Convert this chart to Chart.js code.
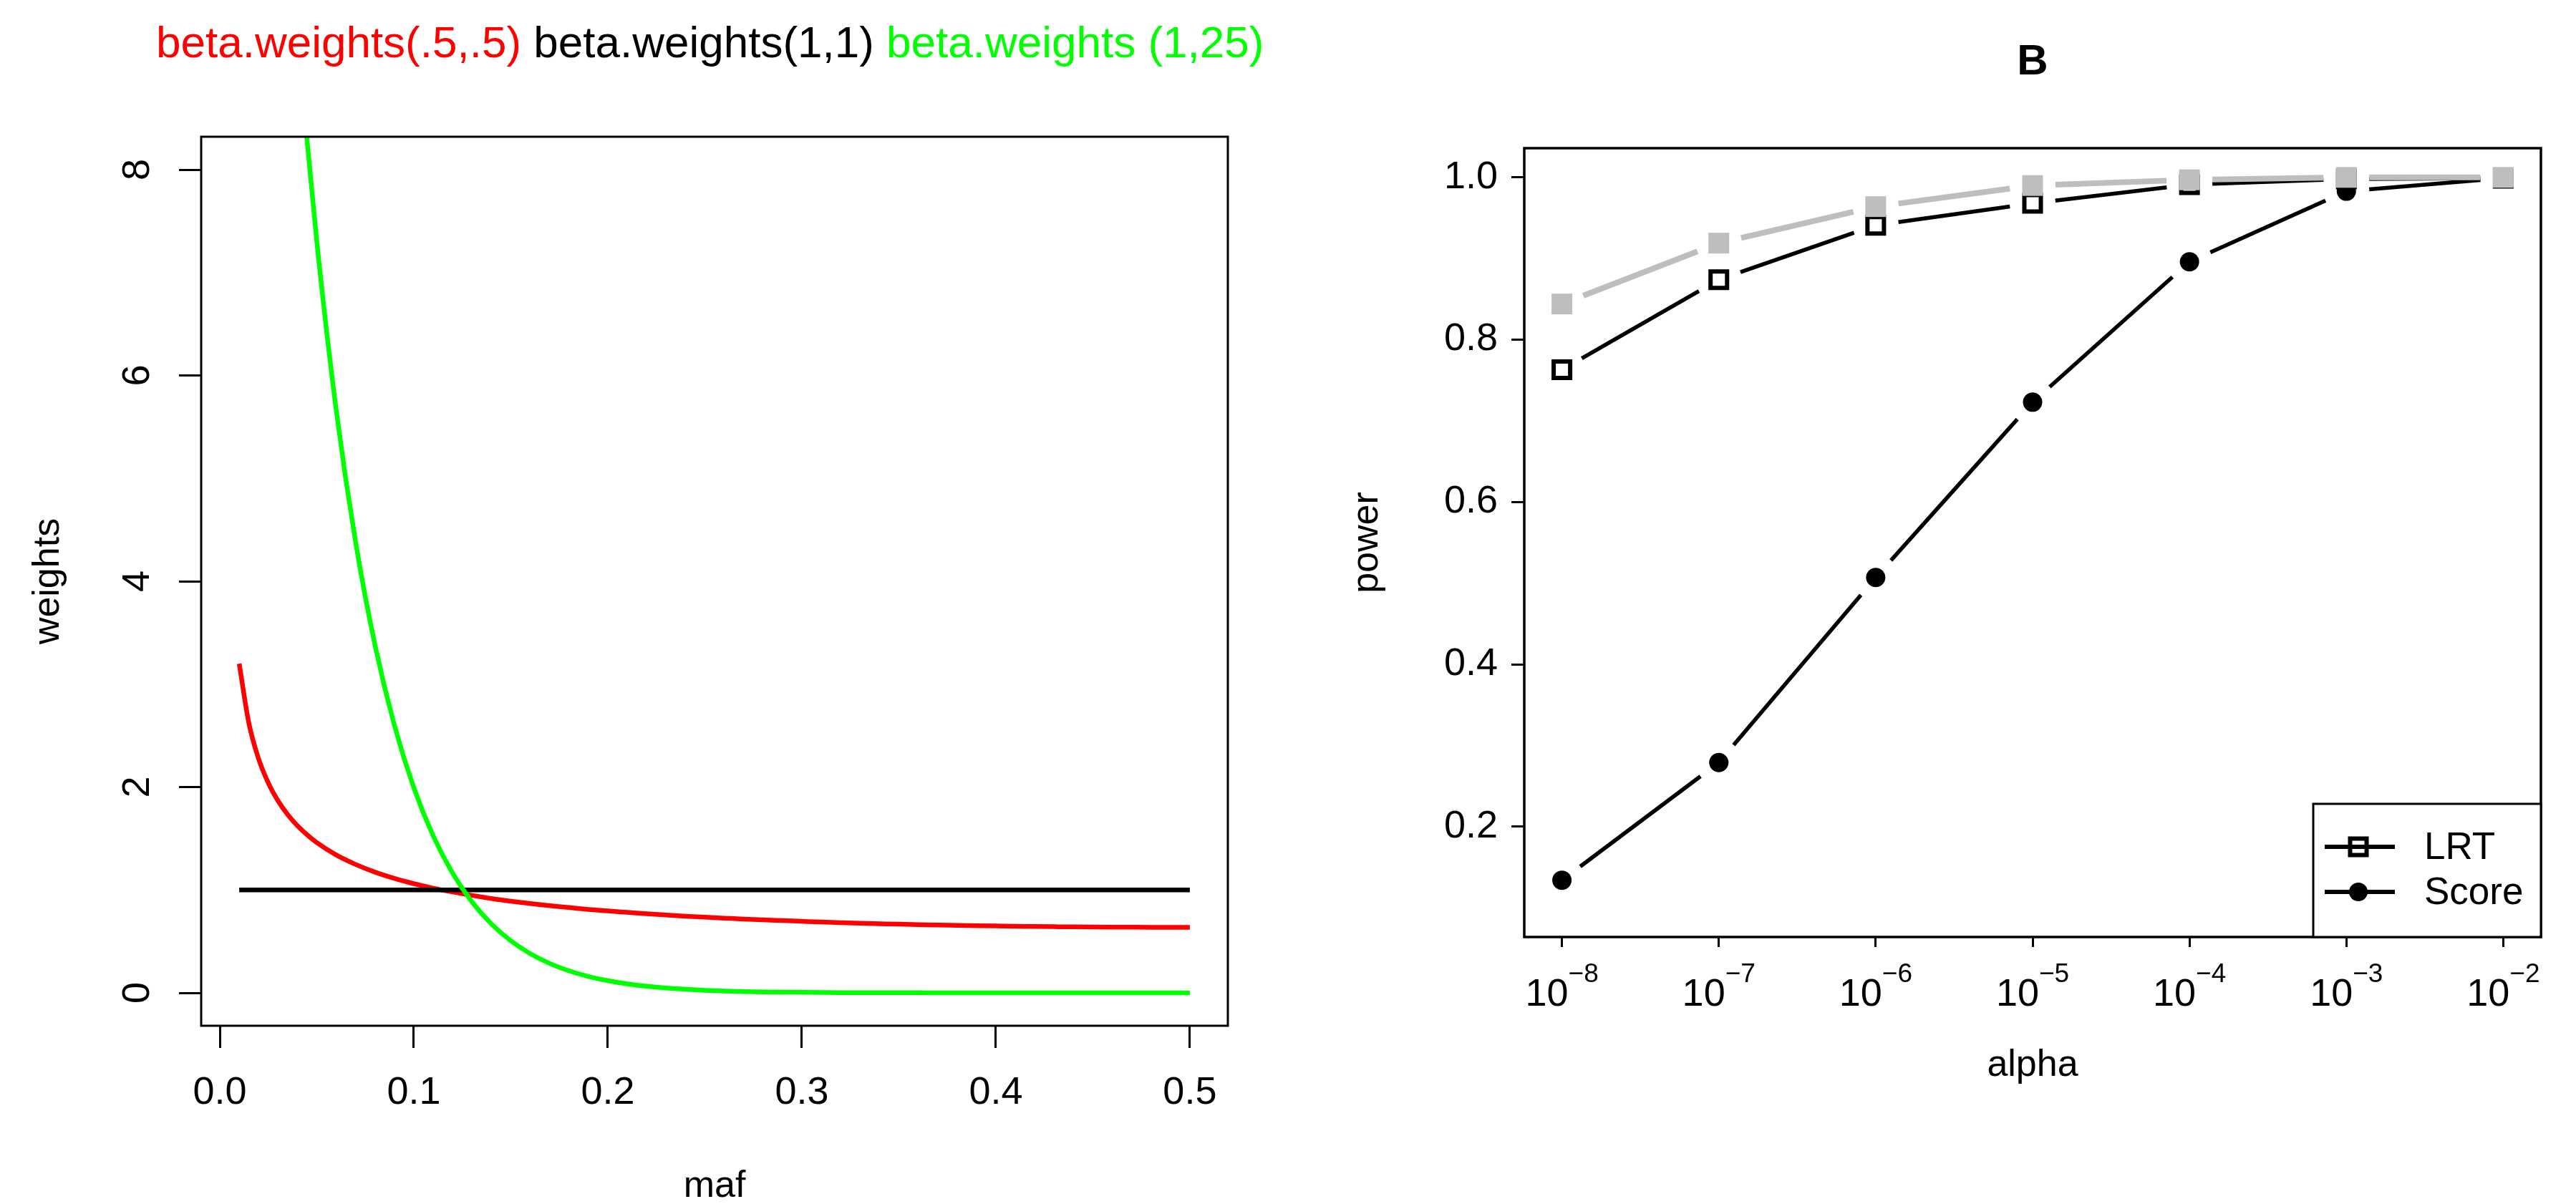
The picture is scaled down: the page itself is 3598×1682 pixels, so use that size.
<!DOCTYPE html>
<html>
<head>
<meta charset="utf-8">
<script src="https://cdn.jsdelivr.net/npm/chart.js@4.4.1/dist/chart.umd.min.js"></script>
<style>
  html, body { margin: 0; padding: 0; background: #fff; overflow: hidden; }
  #wrap { position: relative; width: 3598px; height: 1682px; background: #fff; }
  canvas { position: absolute; top: 0; }
  #left { left: 0; }
  #right { left: 1800px; }
</style>
</head>
<body>
<div id="wrap">
  <canvas id="left" width="1800" height="1682"></canvas>
  <canvas id="right" width="1798" height="1682"></canvas>
</div>
<script>
// left panel: beta weights vs minor allele frequency
const maf = [0.01, 0.015, 0.02, 0.025, 0.03, 0.035, 0.04, 0.045, 0.05,
             0.06, 0.07, 0.08, 0.09, 0.10,
             0.11, 0.12, 0.13, 0.14, 0.15, 0.16, 0.17, 0.18, 0.19, 0.20,
             0.21, 0.22, 0.23, 0.24, 0.25, 0.26, 0.27, 0.28, 0.29, 0.30,
             0.31, 0.32, 0.33, 0.34, 0.35, 0.36, 0.37, 0.38, 0.39, 0.40,
             0.41, 0.42, 0.43, 0.44, 0.45, 0.46, 0.47, 0.48, 0.49, 0.50];
const wHalf = [3.199, 2.619, 2.274, 2.039, 1.866, 1.732, 1.624, 1.536, 1.460,
               1.340, 1.248, 1.173, 1.112, 1.061,
               1.017, 0.980, 0.947, 0.917, 0.891, 0.868, 0.847, 0.829, 0.811, 0.796,
               0.782, 0.768, 0.756, 0.745, 0.735, 0.726, 0.717, 0.709, 0.702, 0.695,
               0.688, 0.682, 0.677, 0.672, 0.667, 0.663, 0.659, 0.656, 0.653, 0.650,
               0.647, 0.645, 0.643, 0.641, 0.640, 0.639, 0.638, 0.637, 0.637, 0.637];
const wFlat = [1, 1, 1, 1, 1, 1, 1, 1, 1,
               1, 1, 1, 1, 1,
               1, 1, 1, 1, 1, 1, 1, 1, 1, 1,
               1, 1, 1, 1, 1, 1, 1, 1, 1, 1,
               1, 1, 1, 1, 1, 1, 1, 1, 1, 1,
               1, 1, 1, 1, 1, 1, 1, 1, 1, 1];
const wSkew = [19.642, 17.395, 15.394, 13.616, 12.035, 10.632, 9.385, 8.280, 7.300,
               5.663, 4.381, 3.379, 2.600, 1.994,
               1.525, 1.163, 0.884, 0.670, 0.506, 0.381, 0.286, 0.214, 0.159, 0.118,
               0.087, 0.064, 0.047, 0.035, 0.025, 0.018, 0.013, 0.009, 0.007, 0.005,
               0.003, 0.002, 0.002, 0.001, 0.001, 0.001, 0, 0, 0, 0,
               0, 0, 0, 0, 0, 0, 0, 0, 0, 0];
const mafTicks = [0, 0.1, 0.2, 0.3, 0.4, 0.5];
const weightTicks = [0, 2, 4, 6, 8];

// right panel: power vs alpha
const alpha = [1e-8, 1e-7, 1e-6, 1e-5, 1e-4, 1e-3, 1e-2];
const powerGray = [0.844, 0.919, 0.964, 0.990, 0.997, 1.000, 1.000];
const powerLRT = [0.763, 0.874, 0.941, 0.968, 0.991, 0.998, 0.999];
const powerScore = [0.134, 0.279, 0.507, 0.723, 0.896, 0.983, 0.999];
const powerTicks = [0.2, 0.4, 0.6, 0.8, 1.0];

const FONT = "'Liberation Sans', Arial, sans-serif";
Chart.defaults.font.family = FONT;
Chart.defaults.color = '#000';

const titleParts = [
  { text: 'beta.weights(.5,.5)', color: '#ff0000' },
  { text: ' beta.weights(1,1)', color: '#000000' },
  { text: ' beta.weights (1,25)', color: '#00ff00' }
];

function boxPlugin(width) {
  return {
    id: 'box',
    afterDatasetsDraw(chart) {
      const a = chart.chartArea, ctx = chart.ctx;
      ctx.save();
      ctx.lineWidth = width;
      ctx.strokeStyle = '#000';
      ctx.strokeRect(a.left, a.top, a.right - a.left, a.bottom - a.top);
      ctx.restore();
    }
  };
}

const leftText = {
  id: 'leftText',
  afterDraw(chart) {
    const ctx = chart.ctx, a = chart.chartArea, ys = chart.scales.y;
    ctx.save();
    // coloured title
    ctx.font = '62px ' + FONT;
    ctx.textBaseline = 'alphabetic';
    ctx.textAlign = 'left';
    let x = 218;
    titleParts.forEach(p => {
      ctx.fillStyle = p.color;
      ctx.fillText(p.text, x, 80);
      x += ctx.measureText(p.text).width;
    });
    // y tick labels, parallel to the axis
    ctx.fillStyle = '#000';
    ctx.font = '54px ' + FONT;
    ctx.textAlign = 'center';
    weightTicks.forEach(v => {
      ctx.save();
      ctx.translate(a.left - 73, ys.getPixelForValue(v));
      ctx.rotate(-Math.PI / 2);
      ctx.fillText(String(v), 0, 0);
      ctx.restore();
    });
    ctx.restore();
  }
};

const rightText = {
  id: 'rightText',
  afterDraw(chart) {
    const ctx = chart.ctx, a = chart.chartArea, xs = chart.scales.x;
    ctx.save();
    ctx.fillStyle = '#000';
    // title
    ctx.font = 'bold 60px ' + FONT;
    ctx.textAlign = 'center';
    ctx.textBaseline = 'alphabetic';
    ctx.fillText('B', (a.left + a.right) / 2, 104);
    // x tick labels 10^n
    ctx.textAlign = 'left';
    const base = a.bottom + 96;
    alpha.forEach(v => {
      const exp = '\u2212' + Math.abs(Math.round(Math.log10(v)));
      ctx.font = '54px ' + FONT;
      const w1 = ctx.measureText('10').width;
      ctx.font = '37px ' + FONT;
      const w2 = ctx.measureText(exp).width;
      const x0 = xs.getPixelForValue(v) - (w1 + w2) / 2;
      ctx.font = '54px ' + FONT;
      ctx.fillText('10', x0, base);
      ctx.font = '37px ' + FONT;
      ctx.fillText(exp, x0 + w1, base - 33);
    });
    // legend
    const lx = a.right - 318, ly = a.bottom - 186;
    ctx.fillStyle = '#fff';
    ctx.fillRect(lx, ly, a.right - lx, a.bottom - ly);
    ctx.lineWidth = 3;
    ctx.strokeStyle = '#000';
    ctx.strokeRect(lx, ly, a.right - lx, a.bottom - ly);
    const rows = [
      { label: 'LRT', y: ly + 60, style: 'rect', radius: 16.3, bw: 6, fill: 'rgba(0,0,0,0)' },
      { label: 'Score', y: ly + 123, style: 'circle', radius: 13, bw: 0, fill: '#000' }
    ];
    rows.forEach(r => {
      ctx.lineWidth = 6;
      ctx.strokeStyle = '#000';
      ctx.beginPath();
      ctx.moveTo(lx + 16, r.y);
      ctx.lineTo(lx + 114, r.y);
      ctx.stroke();
      ctx.fillStyle = r.fill;
      ctx.lineWidth = r.bw;
      Chart.helpers.drawPoint(ctx, { pointStyle: r.style, radius: r.radius, borderWidth: r.bw, rotation: 0 }, lx + 63, r.y);
      ctx.fillStyle = '#000';
      ctx.font = '53px ' + FONT;
      ctx.textBaseline = 'middle';
      ctx.fillText(r.label, lx + 155, r.y + 2);
    });
    ctx.restore();
  }
};

const tickGrid = len => ({ drawOnChartArea: false, tickLength: len, tickWidth: 3, tickColor: '#000', color: '#000' });

const pts = (xs, ys) => xs.map((x, i) => ({ x: x, y: ys[i] }));

new Chart(document.getElementById('left'), {
  type: 'line',
  data: {
    datasets: [
      { data: pts(maf, wHalf), borderColor: '#ff0000', order: 3 },
      { data: pts(maf, wFlat), borderColor: '#000000', order: 2 },
      { data: pts(maf, wSkew), borderColor: '#00ff00', order: 1 }
    ]
  },
  options: {
    responsive: false,
    animation: false,
    devicePixelRatio: 1,
    layout: { padding: { left: 0, top: 191, right: 85, bottom: 0 } },
    datasets: { line: { borderWidth: 6.5, pointRadius: 0, cubicInterpolationMode: 'monotone', clip: 0 } },
    plugins: { legend: { display: false }, tooltip: { enabled: false } },
    scales: {
      x: {
        type: 'linear', min: -0.0096, max: 0.5196,
        afterBuildTicks: s => { s.ticks = mafTicks.map(v => ({ value: v })); },
        afterFit: s => { s.height = 249; },
        grid: tickGrid(31),
        border: { display: false },
        ticks: { autoSkip: false, maxRotation: 0, padding: 31, font: { size: 54 }, callback: v => v.toFixed(1) },
        title: { display: true, text: 'maf', font: { size: 52 }, padding: { top: 0, bottom: -7 } }
      },
      y: {
        type: 'linear', min: -0.32, max: 8.32,
        afterBuildTicks: s => { s.ticks = weightTicks.map(v => ({ value: v })); },
        afterFit: s => { s.width = 281; },
        grid: tickGrid(31),
        border: { display: false },
        ticks: { display: false },
        title: { display: true, text: 'weights', font: { size: 52 }, padding: { top: 36, bottom: 0 } }
      }
    }
  },
  plugins: [boxPlugin(3), leftText]
});

const GAP = 32;
const gapped = ctx => {
  const len = Math.hypot(ctx.p1.x - ctx.p0.x, ctx.p1.y - ctx.p0.y);
  return [0, GAP, Math.max(len - 2 * GAP, 0), len + GAP];
};

new Chart(document.getElementById('right'), {
  type: 'line',
  data: {
    datasets: [
      { data: pts(alpha, powerGray), borderColor: '#bebebe', borderWidth: 8,
        pointStyle: 'rect', pointRadius: 20.5, pointBackgroundColor: '#bebebe', pointBorderWidth: 0 },
      { data: pts(alpha, powerScore), borderColor: '#000', borderWidth: 5.5,
        pointStyle: 'circle', pointRadius: 13.5, pointBackgroundColor: '#000', pointBorderWidth: 0 },
      { data: pts(alpha, powerLRT), borderColor: '#000', borderWidth: 5.5,
        pointStyle: 'rect', pointRadius: 16.3, pointBackgroundColor: 'rgba(0,0,0,0)',
        pointBorderColor: '#000', pointBorderWidth: 6 }
    ]
  },
  options: {
    responsive: false,
    animation: false,
    devicePixelRatio: 1,
    layout: { padding: { left: 0, top: 207, right: 49, bottom: 0 } },
    datasets: { line: { tension: 0, segment: { borderDash: gapped } } },
    plugins: { legend: { display: false }, tooltip: { enabled: false } },
    scales: {
      x: {
        type: 'logarithmic', min: Math.pow(10, -8.24), max: Math.pow(10, -1.76),
        afterBuildTicks: s => { s.ticks = alpha.map(v => ({ value: v })); },
        afterFit: s => { s.height = 373; },
        grid: tickGrid(14),
        border: { display: false },
        ticks: { display: false },
        title: { display: true, text: 'alpha', font: { size: 52 }, padding: { top: 0, bottom: 162 } }
      },
      y: {
        type: 'linear', min: 0.064, max: 1.036,
        afterBuildTicks: s => { s.ticks = powerTicks.map(v => ({ value: v })); },
        afterFit: s => { s.width = 329; },
        grid: tickGrid(18),
        border: { display: false },
        ticks: { autoSkip: false, padding: 19, font: { size: 54 }, callback: v => v.toFixed(1) },
        title: { display: true, text: 'power', font: { size: 52 }, padding: { top: 78, bottom: 0 } }
      }
    }
  },
  plugins: [boxPlugin(3.5), rightText]
});
</script>
</body>
</html>
